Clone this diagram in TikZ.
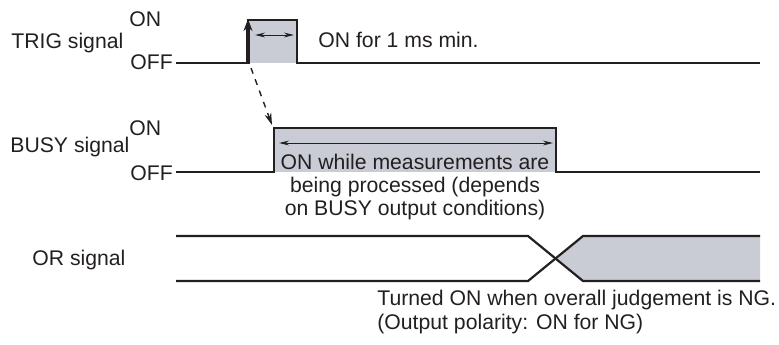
\documentclass[tikz,border=0pt]{standalone}
\usepackage{fontspec}
\setmainfont{Liberation Sans}
\usepackage{xcolor}
\usepackage{tikz}
\usetikzlibrary{arrows.meta, calc}
\definecolor{sigfill}{RGB}{201, 204, 212}
\definecolor{inkgray}{RGB}{35, 31, 32}

\begin{document}
\begin{tikzpicture}[x=0.5pt, y=-0.5pt, inkgray,
    lbl/.style={inner sep=0pt, anchor=base west, font=\fontsize{10.6}{12}\selectfont},
    note/.style={inner sep=0pt, anchor=base, font=\fontsize{10.6}{12}\selectfont},
    wave/.style={line width=1.1pt, line join=miter},
    span/.style={line width=0.5pt, {Stealth[length=5pt, width=2.4pt]}-{Stealth[length=5pt, width=2.4pt]}}]
    \useasboundingbox (0,0) rectangle (779,344);

    % TRIG signal
    \fill[sigfill] (248,20) rectangle (297,63);
    \draw[wave] (176,63) -- (248,63) -- (248,20) -- (297,20) -- (297,63) -- (760,63);
    \node[lbl] (trigname) at (11,48) {TRIG signal};
    \node[lbl] (trigon) at (129,26) {ON};
    \node[lbl] (trigoff) at (130,69) {OFF};
    \node[lbl] (trignote) at (318,47) {ON for 1 ms min.};
    \coordinate (trigrise) at (248,64);
    \coordinate (trigtop) at (248,19);
    \draw[line width=2pt, -{Stealth[length=6pt, width=4.5pt]}] (trigrise) -- (trigtop);
    \coordinate (trigspana) at (255,35);
    \coordinate (trigspanb) at (294,35);
    \draw[span] (trigspana) -- (trigspanb);

    % trigger starts the busy period
    \coordinate (trigfoot) at (251,68);
    \coordinate (busycorner) at (272,125);
    \draw[dashed, line width=0.7pt, -{Stealth[length=6pt, width=3.5pt]}] (trigfoot) -- (busycorner);

    % BUSY signal
    \fill[sigfill] (274,128) rectangle (556,172);
    \draw[wave] (176,172) -- (274,172) -- (274,128) -- (556,128) -- (556,172) -- (760,172);
    \node[lbl] (busyname) at (10,152) {BUSY signal};
    \node[lbl] (busyon) at (129,135) {ON};
    \node[lbl] (busyoff) at (130,180) {OFF};
    \coordinate (busyspana) at (279,143);
    \coordinate (busyspanb) at (553,143);
    \draw[span] (busyspana) -- (busyspanb);
    \node[note] (busynotea) at (415,169) {ON while measurements are};
    \node[note] (busynoteb) at (415,192) {being processed (depends};
    \node[note] (busynotec) at (415,215) {on BUSY output conditions)};

    % OR signal
    \fill[sigfill] (557,259) -- (583,236) -- (760,236) -- (760,281) -- (583,281) -- cycle;
    \draw[wave] (176,236) -- (528,236) -- (583,281) -- (760,281);
    \draw[wave] (176,281) -- (528,281) -- (583,236) -- (760,236);
    \node[lbl] (orname) at (32,265) {OR signal};
    \node[lbl] (ornotea) at (377,305) {Turned ON when overall judgement is NG.};
    \node[lbl] (ornoteb) at (377,329) {(Output polarity: ON for NG)};
\end{tikzpicture}
\end{document}
